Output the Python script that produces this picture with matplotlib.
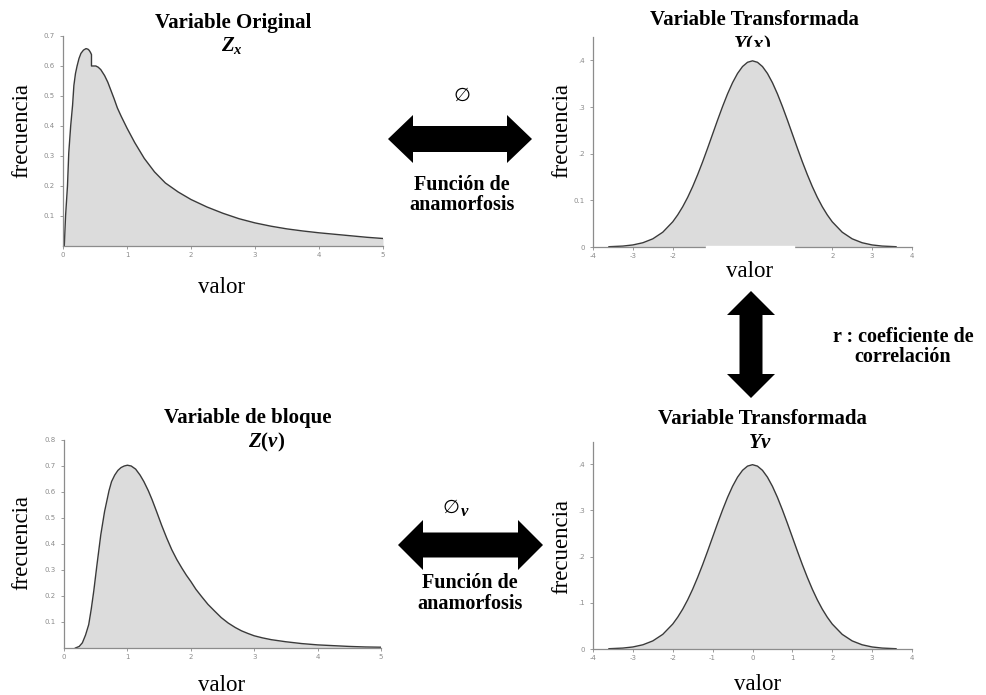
import matplotlib
matplotlib.use("Agg")
import matplotlib.pyplot as plt
from matplotlib.patches import Polygon, Rectangle
import matplotlib.transforms as mtransforms

# curva de la variable original Z_x
zx_x = [0.02, 0.04, 0.07, 0.09, 0.12, 0.15, 0.17, 0.195, 0.22, 0.25, 0.28, 0.32, 0.36, 0.39,
        0.41, 0.43, 0.445, 0.445, 0.513, 0.55, 0.59, 0.65, 0.70, 0.75, 0.80, 0.85, 0.91, 1.0,
        1.12, 1.27, 1.43, 1.6, 1.8, 2.0, 2.25, 2.5, 2.75, 3.0, 3.25, 3.5, 3.75, 4.0, 4.25,
        4.5, 4.75, 5.0]
zx_y = [0.0, 0.10, 0.20, 0.31, 0.40, 0.47, 0.535, 0.575, 0.60, 0.625, 0.642, 0.653, 0.658,
        0.656, 0.652, 0.645, 0.638, 0.60, 0.60, 0.596, 0.588, 0.568, 0.546, 0.518, 0.49,
        0.46, 0.432, 0.393, 0.345, 0.292, 0.247, 0.21, 0.18, 0.155, 0.13, 0.109, 0.091,
        0.077, 0.066, 0.057, 0.05, 0.044, 0.039, 0.034, 0.029, 0.025]

# variable de bloque Z(v)
zv_x = [0.18, 0.24, 0.29, 0.34, 0.39, 0.43, 0.47, 0.52, 0.58, 0.64, 0.71, 0.75, 0.80, 0.85,
        0.90, 0.95, 1.0, 1.06, 1.13, 1.20, 1.26, 1.33, 1.39, 1.46, 1.54, 1.62, 1.70, 1.78,
        1.86, 1.93, 2.0, 2.08, 2.17, 2.27, 2.38, 2.48, 2.59, 2.70, 2.80, 2.90, 3.0, 3.13,
        3.27, 3.5, 3.75, 4.0, 4.25, 4.5, 4.75, 5.0]
zv_y = [0.0, 0.006, 0.02, 0.05, 0.09, 0.15, 0.22, 0.32, 0.435, 0.525, 0.605, 0.64, 0.665,
        0.683, 0.694, 0.70, 0.703, 0.70, 0.688, 0.665, 0.64, 0.605, 0.57, 0.525, 0.472,
        0.423, 0.378, 0.34, 0.307, 0.28, 0.256, 0.226, 0.198, 0.168, 0.141, 0.117, 0.096,
        0.079, 0.066, 0.056, 0.047, 0.039, 0.032, 0.024, 0.017, 0.012, 0.009, 0.006, 0.004,
        0.003]

# variables transformadas (gaussianas)
gx = [-3.6, -3.25, -3.0, -2.75, -2.5, -2.25, -2.0, -1.875, -1.75, -1.625, -1.5, -1.375,
      -1.25, -1.125, -1.0, -0.875, -0.75, -0.625, -0.5, -0.375, -0.25, -0.125, 0.0, 0.125,
      0.25, 0.375, 0.5, 0.625, 0.75, 0.875, 1.0, 1.125, 1.25, 1.375, 1.5, 1.625, 1.75,
      1.875, 2.0, 2.25, 2.5, 2.75, 3.0, 3.25, 3.6]
yx_y = [0.0006, 0.002, 0.0044, 0.0091, 0.0175, 0.0317, 0.054, 0.0689, 0.0863, 0.1065,
        0.1295, 0.1551, 0.1826, 0.2119, 0.242, 0.2721, 0.3011, 0.3282, 0.3521, 0.3719,
        0.3867, 0.3958, 0.3989, 0.3958, 0.3867, 0.3719, 0.3521, 0.3282, 0.3011, 0.2721,
        0.242, 0.2119, 0.1826, 0.1551, 0.1295, 0.1065, 0.0863, 0.0689, 0.054, 0.0317,
        0.0175, 0.0091, 0.0044, 0.002, 0.0006]
yv_y = [0.0006, 0.002, 0.0044, 0.0091, 0.0175, 0.0317, 0.054, 0.0689, 0.0863, 0.1065,
        0.1295, 0.1551, 0.1826, 0.2119, 0.242, 0.2721, 0.3011, 0.3282, 0.3521, 0.3719,
        0.3867, 0.3958, 0.3989, 0.3958, 0.3867, 0.3719, 0.3521, 0.3282, 0.3011, 0.2721,
        0.242, 0.2119, 0.1826, 0.1551, 0.1295, 0.1065, 0.0863, 0.0689, 0.054, 0.0317,
        0.0175, 0.0091, 0.0044, 0.002, 0.0006]

z_ticks = [0, 1, 2, 3, 4, 5]
zx_yticks = [0.1, 0.2, 0.3, 0.4, 0.5, 0.6, 0.7]
zv_yticks = [0.1, 0.2, 0.3, 0.4, 0.5, 0.6, 0.7, 0.8]
g_ticks = [-4, -3, -2, -1, 0, 1, 2, 3, 4]
g_yticks = [0, 0.1, 0.2, 0.3, 0.4]
yx_ylabels = ['0', '0.1', '.2', '.3', '.4']
yv_ylabels = ['0', '.1', '.2', '.3', '.4']

W, H = 986, 695
plt.rcParams['axes.unicode_minus'] = False
plt.rcParams['mathtext.fontset'] = 'custom'
plt.rcParams['mathtext.it'] = 'Liberation Serif:italic:bold'
plt.rcParams['mathtext.rm'] = 'Liberation Serif:bold'
plt.rcParams['mathtext.bf'] = 'Liberation Serif:bold'

fig = plt.figure(figsize=(W / 100, H / 100), dpi=100)


def axes_px(x0, x1, y_bottom, y_top):
    return fig.add_axes([x0 / W, 1 - y_bottom / H, (x1 - x0) / W, (y_bottom - y_top) / H])


def style(ax):
    for s in ['top', 'right']:
        ax.spines[s].set_visible(False)
    for s in ['left', 'bottom']:
        ax.spines[s].set_color('#8c8c8c')
        ax.spines[s].set_linewidth(0.9)
    ax.tick_params(length=2, width=0.6, colors='#8c8c8c', labelsize=5)
    ax.tick_params(axis='y', pad=4)
    ax.tick_params(axis='x', pad=2)
    ax.set_facecolor('none')


def curve(ax, x, y):
    ax.fill_between(x, 0, y, color='#dcdcdc', lw=0)
    ax.plot(x, y, color='#3a3a3a', lw=1.0)


# arriba izquierda
ax1 = axes_px(63, 383, 246, 36)
curve(ax1, zx_x, zx_y)
ax1.set_xlim(0, 5)
ax1.set_ylim(0, 0.7)
ax1.set_xticks(z_ticks)
ax1.set_yticks(zx_yticks)
style(ax1)

# arriba derecha
ax2 = axes_px(593, 912, 247, 37)
curve(ax2, gx, yx_y)
ax2.set_xlim(-4, 4)
ax2.set_ylim(0, 0.45)
ax2.set_xticks(g_ticks)
ax2.set_yticks(g_yticks, labels=yx_ylabels)
style(ax2)
trans = mtransforms.blended_transform_factory(ax2.transData, ax2.transAxes)
ax2.add_patch(Rectangle((-1.16, -0.12), 2.19, 0.123, transform=trans, color='white',
                        clip_on=False, zorder=10))

# abajo izquierda
ax3 = axes_px(64, 381, 648, 440)
curve(ax3, zv_x, zv_y)
ax3.set_xlim(0, 5)
ax3.set_ylim(0, 0.8)
ax3.set_xticks(z_ticks)
ax3.set_yticks(zv_yticks)
style(ax3)

# abajo derecha
ax4 = axes_px(593, 912, 649, 442)
curve(ax4, gx, yv_y)
ax4.set_xlim(-4, 4)
ax4.set_ylim(0, 0.448)
ax4.set_xticks(g_ticks)
ax4.set_yticks(g_yticks, labels=yv_ylabels)
style(ax4)


def ftext(px, py, s, **kw):
    kw.setdefault('ha', 'center')
    kw.setdefault('va', 'baseline')
    kw.setdefault('family', 'Liberation Serif')
    return fig.text(px / W, 1 - py / H, s, **kw)


# titulos
ftext(233, 28, 'Variable Original', size=15, weight='bold')
ftext(232, 51, r'$Z_x$', size=15)
ftext(754, 25, 'Variable Transformada', size=15, weight='bold')
ftext(752, 50, r'$Y(x)$', size=15)
fig.add_artist(Rectangle((725 / W, 1 - 58 / H), 55 / W, 11 / H, transform=fig.transFigure,
                         color='white', zorder=5))
ftext(248, 423, 'Variable de bloque', size=15, weight='bold')
ftext(267, 447, r'$Z(v)$', size=15)
ftext(762, 424, 'Variable Transformada', size=15, weight='bold')
ftext(760, 448, r'$Yv$', size=15)

# ejes
for (px, py) in [(22, 130), (562, 130), (22, 543), (562, 547)]:
    ftext(px, py, 'frecuencia', size=16.5, rotation=90, va='center')
for (px, py) in [(222, 293), (750, 277), (222, 691), (758, 690)]:
    ftext(px, py, 'valor', size=16.5)

# funciones de anamorfosis
ftext(462, 101, '\u2205', size=14, family='DejaVu Sans')
ftext(462, 190, 'Función de', size=14.5, weight='bold')
ftext(462, 210, 'anamorfosis', size=14.5, weight='bold')
ftext(451, 513, '\u2205', size=14, family='DejaVu Sans')
ftext(465, 516, 'v', size=12, weight='bold', style='italic')
ftext(470, 588, 'Función de', size=14.5, weight='bold')
ftext(470, 609, 'anamorfosis', size=14.5, weight='bold')
ftext(903, 342, 'r : coeficiente de', size=14.5, weight='bold')
ftext(903, 362, 'correlación', size=14.5, weight='bold')


def px_poly(points):
    pts = [(x / W, 1 - y / H) for x, y in points]
    fig.add_artist(Polygon(pts, closed=True, transform=fig.transFigure, color='black', lw=0))


def h_arrow(x0, x1, yc, shaft, head, hl):
    s, h = shaft / 2, head / 2
    px_poly([(x0, yc), (x0 + hl, yc - h), (x0 + hl, yc - s), (x1 - hl, yc - s),
             (x1 - hl, yc - h), (x1, yc), (x1 - hl, yc + h), (x1 - hl, yc + s),
             (x0 + hl, yc + s), (x0 + hl, yc + h)])


def v_arrow(xc, y0, y1, shaft, head, hl):
    s, h = shaft / 2, head / 2
    px_poly([(xc, y0), (xc + h, y0 + hl), (xc + s, y0 + hl), (xc + s, y1 - hl),
             (xc + h, y1 - hl), (xc, y1), (xc - h, y1 - hl), (xc - s, y1 - hl),
             (xc - s, y0 + hl), (xc - h, y0 + hl)])


h_arrow(388, 532, 139, 26, 48, 25)
h_arrow(398, 543, 545, 25, 50, 25)
v_arrow(751, 291, 398, 23, 48, 24)

fig.savefig('out.png', dpi=100)
